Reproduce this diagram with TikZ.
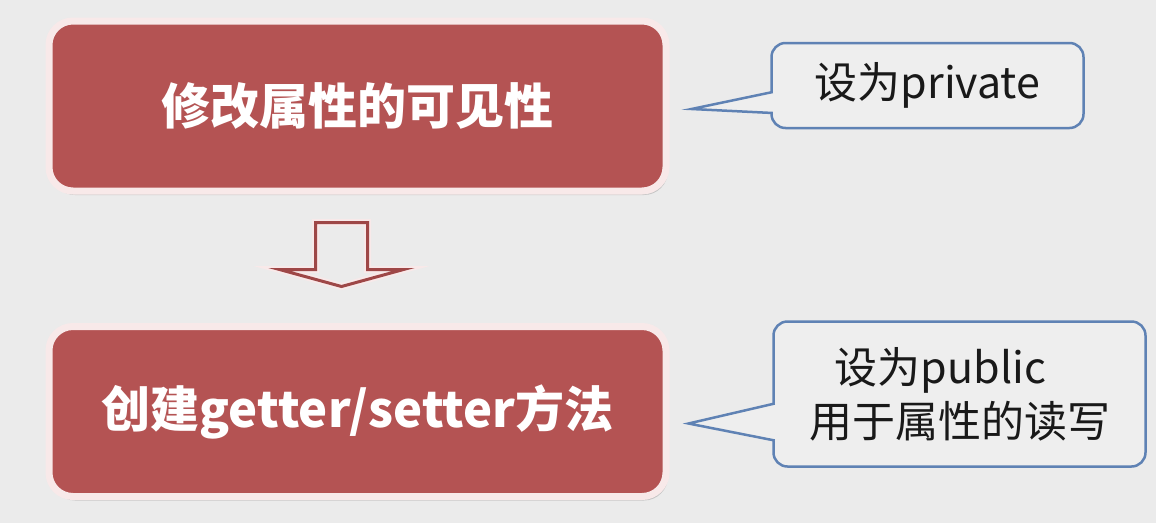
\documentclass[tikz,border=0pt]{standalone}
\usepackage{fontspec}
\newfontfamily\cjk{Noto Sans CJK SC}
\usepackage{tikz}
\usetikzlibrary{positioning}
\usetikzlibrary{calc}
\usetikzlibrary{shadows}
\definecolor{bgcolor}{HTML}{EBEBEB}
\definecolor{stepred}{HTML}{B45353}
\definecolor{stepborder}{HTML}{F8E9E9}
\definecolor{arrowred}{HTML}{9E4747}
\definecolor{noteblue}{HTML}{5F82B4}
\definecolor{notefill}{HTML}{EEEEEE}
\tikzset{stepbox/.style={rectangle, rounded corners=24pt, fill=stepred, draw=stepborder, line width=7pt,
    minimum width=617pt, minimum height=170pt, text=white, font=\cjk\bfseries\fontsize{49}{54}\selectfont,
    drop shadow={shadow xshift=2pt, shadow yshift=-4pt, opacity=0.35, fill=gray}}}
\tikzset{note/.style={rectangle, rounded corners=14pt, fill=notefill, draw=noteblue, line width=2.5pt,
    text=black!90, align=center, font=\cjk\fontsize{43}{54}\selectfont}}
\tikzset{pointer/.style={draw=noteblue, line width=2.5pt, line join=miter}}
\tikzset{bigarrow/.style={draw=arrowred, line width=3pt, line join=miter}}

\begin{document}
\begin{tikzpicture}[x=1pt,y=-1pt]

    % Background
    \fill [bgcolor] (0,0) rectangle (1156,523);

    % Nodes
    \node [stepbox] (modify) at (357.5,106) {修改属性的可见性};
    \node [stepbox] (create) at ($(modify.south) + (0,217)$) {创建getter/setter方法};
    \node [note, minimum width=312pt, minimum height=85pt] (private) at ($(modify.east) + (258,-20.5)$) {设为private};
    \node [note, minimum width=372pt, minimum height=145pt] (public) at ($(create.east) + (290,-17.5)$) {设为public\hspace*{38pt}\\用于属性的读写};

    % Arrow between boxes
    \coordinate (arrowtop) at ($(modify.south) + (-16,28)$);
    \coordinate (arrowtip) at ($(arrowtop) + (0,64)$);
    \draw [bigarrow, draw=stepborder, line width=7pt] ($(arrowtop) + (-26,0)$) -- ++(52,0) -- ++(0,47) -- ++(36,0) -- (arrowtip) -- ++(-62,-17) -- ++(36,0) -- cycle;
    \draw [bigarrow] ($(arrowtop) + (-26,0)$) -- ++(52,0) -- ++(0,47) -- ++(36,0) -- (arrowtip) -- ++(-62,-17) -- ++(36,0) -- cycle;

    % Callout pointers
    \coordinate (privatetip) at ($(modify.east) + (22,3)$);
    \fill [notefill] ($(private.west) + (2.5,6.5)$) -- (privatetip) -- ($(private.west) + (2.5,27.5)$) -- cycle;
    \draw [pointer] ($(private.west) + (2.5,6.5)$) -- (privatetip) -- ($(private.west) + (2.5,27.5)$);
    \coordinate (publictip) at ($(create.east) + (19,12)$);
    \fill [notefill] ($(public.west) + (2.5,9.5)$) -- (publictip) -- ($(public.west) + (2.5,46.5)$) -- cycle;
    \draw [pointer] ($(public.west) + (2.5,9.5)$) -- (publictip) -- ($(public.west) + (2.5,46.5)$);

\end{tikzpicture}
\end{document}
